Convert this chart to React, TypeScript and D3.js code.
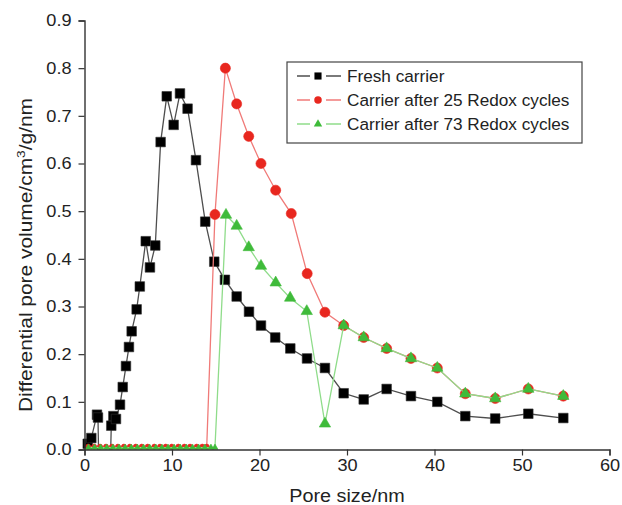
import React, { useRef, useEffect } from "react";
import * as d3 from "d3";

// Fresh carrier (black squares)
const freshX = [0.37, 0.78, 1.43, 1.54, 1.6, 3.0, 3.06, 3.3, 3.6, 4.06, 4.37, 4.74, 5.08, 5.39, 5.96, 6.32, 7.0, 7.48, 8.09, 8.7, 9.4, 10.19, 10.91, 11.78, 12.74, 13.8, 14.83, 16.05, 17.39, 18.8, 20.17, 21.8, 23.52, 25.43, 27.48, 29.62, 31.91, 34.53, 37.31, 40.32, 43.52, 46.94, 50.72, 54.72];
const freshY = [0.012, 0.024, 0.073, 0.067, 0.004, 0.004, 0.05, 0.07, 0.064, 0.094, 0.131, 0.175, 0.215, 0.248, 0.294, 0.342, 0.437, 0.382, 0.428, 0.645, 0.741, 0.681, 0.747, 0.715, 0.607, 0.478, 0.394, 0.356, 0.321, 0.289, 0.26, 0.235, 0.212, 0.191, 0.171, 0.118, 0.105, 0.127, 0.112, 0.1, 0.07, 0.065, 0.075, 0.066];

// Carrier after 25 redox cycles (red circles)
const redox25X = [0.42, 1.1, 1.78, 2.46, 3.14, 3.82, 4.5, 5.18, 5.86, 6.54, 7.22, 7.98, 8.63, 9.28, 9.97, 10.72, 11.41, 12.06, 12.82, 13.46, 13.97, 14.91, 16.1, 17.39, 18.77, 20.17, 21.85, 23.63, 25.45, 27.48, 29.62, 31.91, 34.53, 37.31, 40.32, 43.52, 46.94, 50.72, 54.72];
const redox25Y = [0.006, 0.006, 0.006, 0.006, 0.006, 0.006, 0.006, 0.006, 0.006, 0.006, 0.006, 0.006, 0.006, 0.006, 0.006, 0.006, 0.006, 0.006, 0.006, 0.006, 0.006, 0.493, 0.8, 0.725, 0.657, 0.6, 0.544, 0.495, 0.369, 0.288, 0.26, 0.235, 0.212, 0.191, 0.171, 0.117, 0.107, 0.127, 0.112];

// Carrier after 73 redox cycles (green triangles)
const redox73X = [0.45, 1.15, 1.85, 2.55, 3.25, 3.95, 4.65, 5.35, 6.05, 6.75, 7.45, 8.15, 8.85, 9.55, 10.25, 10.95, 11.65, 12.35, 13.05, 13.75, 14.45, 14.91, 16.17, 17.39, 18.77, 20.17, 21.85, 23.5, 25.4, 27.48, 29.62, 31.91, 34.53, 37.31, 40.32, 43.52, 46.94, 50.72, 54.72];
const redox73Y = [0.004, 0.004, 0.004, 0.004, 0.004, 0.004, 0.004, 0.004, 0.004, 0.004, 0.004, 0.004, 0.004, 0.004, 0.004, 0.004, 0.004, 0.004, 0.004, 0.004, 0.004, 0.004, 0.492, 0.469, 0.424, 0.385, 0.35, 0.318, 0.29, 0.054, 0.26, 0.235, 0.212, 0.191, 0.171, 0.117, 0.107, 0.127, 0.112];

const seriesNames = ["Fresh carrier", "Carrier after 25 Redox cycles", "Carrier after 73 Redox cycles"];
const xTicks = [0, 10, 20, 30, 40, 50, 60];
const yTicks = [0.0, 0.1, 0.2, 0.3, 0.4, 0.5, 0.6, 0.7, 0.8, 0.9];

// the source picture is a bit wider than tall, so text gets stretched sideways
function widen(sel: d3.Selection<any, any, any, any>, k: number) {
  sel.each(function () {
    const node = this as SVGTextElement;
    const len = node.getComputedTextLength();
    node.setAttribute("textLength", String(len * k));
    node.setAttribute("lengthAdjust", "spacingAndGlyphs");
  });
}

export default function App() {
  const chartRef = useRef<HTMLDivElement>(null);

  useEffect(() => {
    document.body.style.margin = "0";
    const width = 622;
    const height = 505;
    const font = "'Liberation Sans', Arial, Helvetica, sans-serif";

    const x = d3.scaleLinear().domain([0, 60]).range([84.5, 609.5]);
    const y = d3.scaleLinear().domain([0, 0.9]).range([449.5, 20.5]);

    const svg = d3
      .select(chartRef.current)
      .html("")
      .append("svg")
      .attr("width", width)
      .attr("height", height)
      .style("display", "block")
      .style("background", "#fff");

    const series = [
      { xs: freshX, ys: freshY, line: "#4e4e4e", fill: "#000", stroke: "#333", sym: d3.symbolSquare, size: 92, small: 10 },
      { xs: redox25X, ys: redox25Y, line: "#f07a78", fill: "#e8271f", stroke: "#e8271f", sym: d3.symbolCircle, size: 80, small: 20 },
      { xs: redox73X, ys: redox73Y, line: "#8fdc8a", fill: "#3fbb3a", stroke: "#3fbb3a", sym: d3.symbolTriangle, size: 56, small: 16 },
    ];

    const line = d3
      .line<[number, number]>()
      .x((d) => x(d[0]))
      .y((d) => y(d[1]));

    series.forEach((s) => {
      const pts: [number, number][] = s.xs.map((v, i) => [v, s.ys[i]]);
      const g = svg.append("g");
      g.append("path")
        .attr("d", line(pts))
        .attr("fill", "none")
        .attr("stroke", s.line)
        .attr("stroke-width", 1.3);
      g.selectAll("path.m")
        .data(pts)
        .enter()
        .append("path")
        .attr("class", "m")
        .attr("transform", (d) => `translate(${x(d[0])},${y(d[1])})`)
        .attr("d", (d) => d3.symbol().type(s.sym).size(d[1] < 0.01 ? s.small : s.size)())
        .attr("fill", s.fill)
        .attr("stroke", s.stroke)
        .attr("stroke-width", 0.6);
    });

    // y axis
    const yAxis = svg.append("g").attr("transform", `translate(${x(0)},0)`);
    yAxis.call(
      d3
        .axisLeft(y)
        .tickValues(d3.range(0.05, 0.9, 0.1))
        .tickSize(3)
        .tickFormat(() => "")
    );
    yAxis.call(
      d3
        .axisLeft(y)
        .tickValues(yTicks)
        .tickSize(6)
        .tickPadding(7)
        .tickFormat(d3.format(".1f"))
    );

    // x axis
    const xAxis = svg.append("g").attr("transform", `translate(0,${y(0)})`);
    xAxis.call(
      d3
        .axisBottom(x)
        .tickValues(d3.range(5, 60, 10))
        .tickSize(3)
        .tickFormat(() => "")
    );
    xAxis.call(
      d3
        .axisBottom(x)
        .tickValues(xTicks)
        .tickSize(6)
        .tickPadding(4)
        .tickFormat(d3.format("d"))
    );

    svg.selectAll(".domain").attr("stroke", "#333").attr("stroke-width", 1.4);
    svg.selectAll(".tick line").attr("stroke", "#333").attr("stroke-width", 1.2);
    const tickText = svg
      .selectAll(".tick text")
      .attr("font-family", font)
      .attr("font-size", 16.5)
      .attr("fill", "#222");
    widen(tickText, 1.1);

    // axis titles
    const xt = svg
      .append("text")
      .attr("x", x(30))
      .attr("y", 502)
      .attr("text-anchor", "middle")
      .attr("font-family", font)
      .attr("font-size", 17.5)
      .attr("fill", "#222")
      .text("Pore size/nm");
    widen(xt, 1.13);

    const yt = svg
      .append("text")
      .attr("transform", "translate(32,255) rotate(-90)")
      .attr("text-anchor", "middle")
      .attr("font-family", font)
      .attr("font-size", 17.5)
      .attr("fill", "#222");
    yt.append("tspan").text("Differential pore volume/cm");
    yt.append("tspan").attr("font-size", 11.5).attr("dy", -7).text("3");
    yt.append("tspan").attr("dy", 7).text("/g/nm");
    yt.attr("textLength", 314).attr("lengthAdjust", "spacingAndGlyphs");

    // legend
    const lg = svg.append("g");
    lg.append("rect")
      .attr("x", 287)
      .attr("y", 62)
      .attr("width", 295)
      .attr("height", 81)
      .attr("fill", "#fff")
      .attr("stroke", "#444")
      .attr("stroke-width", 1.2);
    const rowsY = [76, 100, 124];
    series.forEach((s, i) => {
      lg.append("line")
        .attr("x1", 297)
        .attr("x2", 341)
        .attr("y1", rowsY[i])
        .attr("y2", rowsY[i])
        .attr("stroke", s.line)
        .attr("stroke-width", 1.3);
      lg.append("rect")
        .attr("x", 310)
        .attr("y", rowsY[i] - 6)
        .attr("width", 16)
        .attr("height", 12)
        .attr("fill", "#fff");
      lg.append("path")
        .attr("transform", `translate(318,${rowsY[i]})`)
        .attr("d", d3.symbol().type(s.sym).size(s.size * 0.55)())
        .attr("fill", s.fill);
      const t = lg
        .append("text")
        .attr("x", 347)
        .attr("y", rowsY[i] + 6)
        .attr("font-family", font)
        .attr("font-size", 16.3)
        .attr("fill", "#222")
        .text(seriesNames[i]);
      widen(t, 1.055);
    });
  }, []);

  return <div ref={chartRef} style={{ width: "622px", height: "505px" }}></div>;
}
